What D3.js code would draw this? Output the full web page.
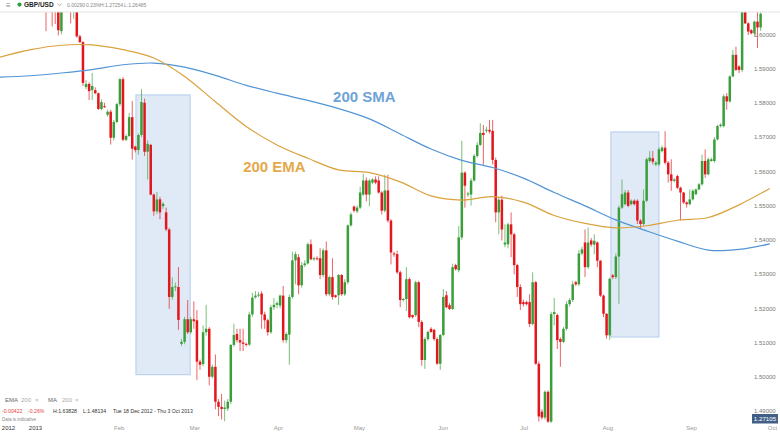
<!DOCTYPE html>
<html>
<head>
<meta charset="utf-8">
<script src="https://cdn.jsdelivr.net/npm/d3@7"></script>
<style>
body { margin: 0; background: #fff; }
svg { display: block; font-family: "Liberation Sans", Arial, sans-serif; }
</style>
</head>
<body>
<script>
// daily GBP/USD candles (Sunday stubs included)
const opens = [
  1.6140,1.6090,1.6120,1.6080,1.6100,1.6009,1.6090,1.6120,1.6100,1.6070,
  1.6080,1.5994,1.5977,1.5846,1.5855,1.5837,1.5837,1.5828,1.5782,1.5790,
  1.5765,1.5774,1.5698,1.5744,1.5796,1.5869,1.5692,1.5703,1.5758,1.5672,
  1.5662,1.5706,1.5800,1.5657,1.5677,1.5532,1.5483,1.5518,1.5498,1.5480,
  1.5430,1.5233,1.5262,1.5262,1.5096,1.5102,1.5168,1.5130,1.5168,1.5165,
  1.5044,1.5037,1.5130,1.5140,1.5000,1.5029,1.4927,1.4912,1.4906,1.4907,
  1.4927,1.5093,1.5125,1.5107,1.5100,1.5096,1.5094,1.5182,1.5232,1.5237,
  1.5243,1.5182,1.5165,1.5130,1.5203,1.5210,1.5208,1.5237,1.5107,1.5123,
  1.5233,1.5340,1.5349,1.5267,1.5326,1.5331,1.5387,1.5343,1.5346,1.5346,
  1.5297,1.5369,1.5241,1.5291,1.5238,1.5238,1.5297,1.5241,1.5276,1.5442,
  1.5497,1.5483,1.5494,1.5532,1.5573,1.5532,1.5567,1.5576,1.5573,1.5538,
  1.5485,1.5544,1.5456,1.5360,1.5358,1.5305,1.5224,1.5227,1.5285,1.5180,
  1.5180,1.5276,1.5160,1.5049,1.5110,1.5140,1.5137,1.5110,1.5038,1.5122,
  1.5238,1.5209,1.5198,1.5326,1.5311,1.5407,1.5596,1.5532,1.5532,1.5573,
  1.5645,1.5677,1.5712,1.5718,1.5721,1.5718,1.5633,1.5480,1.5517,1.5386,
  1.5387,1.5445,1.5416,1.5326,1.5262,1.5218,1.5218,1.5218,1.5154,1.5276,
  1.5038,1.4898,1.4881,1.4956,1.4869,1.5183,1.5180,1.5110,1.5102,1.5140,
  1.5212,1.5224,1.5276,1.5270,1.5360,1.5392,1.5320,1.5398,1.5386,1.5392,
  1.5339,1.5237,1.5184,1.5121,1.5296,1.5291,1.5351,1.5494,1.5504,1.5538,
  1.5504,1.5514,1.5514,1.5456,1.5446,1.5514,1.5630,1.5638,1.5620,1.5620,
  1.5659,1.5669,1.5625,1.5591,1.5572,1.5586,1.5552,1.5538,1.5509,1.5504,
  1.5518,1.5533,1.5547,1.5562,1.5630,1.5591,1.5630,1.5630,1.5693,1.5732,
  1.5732,1.5819,1.5804,1.5877,1.5940,1.5906,1.5896,1.6080,1.6032,1.6012,
  1.6003,1.6037,1.6020
];
const highs = [
  1.6170,1.6150,1.6160,1.6110,1.6130,1.6120,1.6140,1.6150,1.6130,1.6100,
  1.6100,1.5999,1.5980,1.5866,1.5860,1.5887,1.5845,1.5830,1.5810,1.5800,
  1.5780,1.5780,1.5750,1.5800,1.5872,1.5875,1.5708,1.5770,1.5805,1.5675,
  1.5710,1.5840,1.5812,1.5690,1.5680,1.5535,1.5540,1.5525,1.5510,1.5494,
  1.5435,1.5290,1.5275,1.5320,1.5110,1.5175,1.5224,1.5175,1.5220,1.5195,
  1.5050,1.5150,1.5210,1.5145,1.5035,1.5065,1.4935,1.4950,1.4930,1.4935,
  1.5095,1.5155,1.5140,1.5140,1.5140,1.5100,1.5190,1.5245,1.5250,1.5248,
  1.5250,1.5190,1.5170,1.5210,1.5230,1.5220,1.5240,1.5265,1.5130,1.5240,
  1.5365,1.5365,1.5358,1.5335,1.5340,1.5392,1.5401,1.5350,1.5352,1.5375,
  1.5375,1.5395,1.5295,1.5346,1.5240,1.5300,1.5300,1.5285,1.5445,1.5480,
  1.5500,1.5500,1.5555,1.5593,1.5582,1.5578,1.5580,1.5585,1.5585,1.5542,
  1.5590,1.5590,1.5460,1.5365,1.5368,1.5310,1.5230,1.5320,1.5290,1.5182,
  1.5280,1.5280,1.5165,1.5115,1.5135,1.5145,1.5140,1.5115,1.5125,1.5256,
  1.5250,1.5215,1.5330,1.5330,1.5440,1.5689,1.5600,1.5540,1.5580,1.5650,
  1.5685,1.5740,1.5735,1.5730,1.5750,1.5750,1.5640,1.5525,1.5529,1.5445,
  1.5450,1.5480,1.5420,1.5330,1.5270,1.5225,1.5222,1.5241,1.5305,1.5280,
  1.5045,1.4905,1.4960,1.4960,1.5190,1.5230,1.5185,1.5115,1.5145,1.5220,
  1.5230,1.5280,1.5280,1.5370,1.5380,1.5430,1.5436,1.5405,1.5416,1.5395,
  1.5340,1.5240,1.5185,1.5290,1.5300,1.5360,1.5500,1.5576,1.5545,1.5545,
  1.5518,1.5518,1.5518,1.5460,1.5547,1.5640,1.5659,1.5659,1.5630,1.5670,
  1.5675,1.5717,1.5630,1.5635,1.5580,1.5590,1.5555,1.5540,1.5512,1.5547,
  1.5548,1.5550,1.5566,1.5649,1.5664,1.5640,1.5640,1.5700,1.5736,1.5740,
  1.5825,1.5828,1.5880,1.5954,1.5964,1.5910,1.6090,1.6095,1.6035,1.6015,
  1.6040,1.6070,1.6080
];
const lows = [
  1.6009,1.6075,1.6023,1.6030,1.5997,1.6000,1.6070,1.6080,1.6032,1.6045,
  1.5990,1.5975,1.5849,1.5840,1.5808,1.5808,1.5825,1.5779,1.5778,1.5785,
  1.5760,1.5678,1.5690,1.5740,1.5790,1.5688,1.5688,1.5700,1.5634,1.5655,
  1.5648,1.5700,1.5645,1.5576,1.5530,1.5470,1.5475,1.5460,1.5490,1.5425,
  1.5198,1.5225,1.5250,1.5137,1.5090,1.5095,1.5125,1.5125,1.5140,1.4990,
  1.5020,1.5030,1.5120,1.4975,1.4995,1.4905,1.4885,1.4875,1.4870,1.4900,
  1.4920,1.5088,1.5100,1.5075,1.5075,1.5088,1.5090,1.5175,1.5228,1.5232,
  1.5140,1.5140,1.5120,1.5125,1.5195,1.5200,1.5200,1.5100,1.5098,1.5035,
  1.5228,1.5270,1.5241,1.5260,1.5320,1.5328,1.5340,1.5338,1.5340,1.5285,
  1.5290,1.5235,1.5236,1.5225,1.5230,1.5210,1.5236,1.5236,1.5270,1.5438,
  1.5480,1.5478,1.5490,1.5528,1.5512,1.5498,1.5562,1.5562,1.5535,1.5474,
  1.5480,1.5450,1.5328,1.5350,1.5300,1.5203,1.5220,1.5192,1.5170,1.5170,
  1.5175,1.5145,1.5032,1.5023,1.5105,1.5128,1.5105,1.5035,1.5020,1.5118,
  1.5200,1.5195,1.5195,1.5310,1.5305,1.5400,1.5494,1.5525,1.5500,1.5570,
  1.5640,1.5674,1.5619,1.5712,1.5710,1.5620,1.5451,1.5416,1.5398,1.5378,
  1.5375,1.5349,1.5299,1.5233,1.5195,1.5205,1.5208,1.5145,1.5150,1.5035,
  1.4869,1.4875,1.4875,1.4865,1.4865,1.5150,1.5081,1.5029,1.5098,1.5135,
  1.5205,1.5218,1.5265,1.5265,1.5355,1.5291,1.5315,1.5380,1.5358,1.5320,
  1.5233,1.5174,1.5111,1.5108,1.5285,1.5285,1.5213,1.5490,1.5500,1.5495,
  1.5500,1.5500,1.5446,1.5431,1.5440,1.5510,1.5625,1.5620,1.5615,1.5615,
  1.5655,1.5620,1.5567,1.5543,1.5568,1.5548,1.5456,1.5505,1.5494,1.5500,
  1.5515,1.5530,1.5544,1.5558,1.5581,1.5588,1.5628,1.5625,1.5690,1.5728,
  1.5728,1.5780,1.5800,1.5875,1.5893,1.5887,1.5890,1.6030,1.5998,1.6000,
  1.5993,1.5960,1.6010
];
const closes = [
  1.6090,1.6120,1.6080,1.6070,1.6012,1.6090,1.6120,1.6100,1.6070,1.6085,
  1.5994,1.5977,1.5858,1.5855,1.5834,1.5849,1.5828,1.5782,1.5802,1.5788,
  1.5774,1.5698,1.5744,1.5796,1.5869,1.5692,1.5703,1.5758,1.5666,1.5662,
  1.5706,1.5802,1.5657,1.5680,1.5532,1.5483,1.5518,1.5480,1.5505,1.5430,
  1.5233,1.5262,1.5264,1.5166,1.5102,1.5168,1.5130,1.5168,1.5162,1.5044,
  1.5035,1.5130,1.5140,1.5000,1.5029,1.4927,1.4912,1.4906,1.4910,1.4927,
  1.5093,1.5122,1.5107,1.5100,1.5096,1.5094,1.5182,1.5231,1.5237,1.5240,
  1.5182,1.5165,1.5130,1.5203,1.5210,1.5215,1.5237,1.5107,1.5125,1.5233,
  1.5340,1.5358,1.5267,1.5326,1.5331,1.5387,1.5343,1.5346,1.5344,1.5297,
  1.5369,1.5241,1.5291,1.5233,1.5233,1.5297,1.5241,1.5276,1.5442,1.5474,
  1.5485,1.5494,1.5538,1.5573,1.5532,1.5573,1.5576,1.5567,1.5538,1.5485,
  1.5544,1.5456,1.5363,1.5358,1.5305,1.5224,1.5227,1.5285,1.5174,1.5174,
  1.5276,1.5160,1.5049,1.5110,1.5131,1.5131,1.5110,1.5038,1.5122,1.5233,
  1.5203,1.5198,1.5320,1.5314,1.5407,1.5596,1.5558,1.5535,1.5573,1.5645,
  1.5677,1.5712,1.5706,1.5721,1.5716,1.5633,1.5480,1.5517,1.5430,1.5392,
  1.5445,1.5416,1.5326,1.5262,1.5212,1.5212,1.5212,1.5154,1.5276,1.5038,
  1.4884,1.4881,1.4956,1.4869,1.5183,1.5189,1.5107,1.5102,1.5140,1.5212,
  1.5224,1.5270,1.5270,1.5360,1.5372,1.5320,1.5392,1.5386,1.5397,1.5339,
  1.5237,1.5184,1.5121,1.5286,1.5291,1.5351,1.5494,1.5533,1.5538,1.5499,
  1.5514,1.5504,1.5456,1.5446,1.5514,1.5635,1.5640,1.5628,1.5625,1.5664,
  1.5669,1.5625,1.5591,1.5572,1.5576,1.5552,1.5538,1.5509,1.5504,1.5518,
  1.5543,1.5547,1.5562,1.5630,1.5591,1.5635,1.5635,1.5693,1.5732,1.5736,
  1.5819,1.5804,1.5877,1.5940,1.5896,1.5896,1.6075,1.6032,1.6008,1.6003,
  1.6037,1.6020,1.6060
];

// moving averages, read at candle positions
const maIdx  = [-15,-5,5,15,25,35,45,55,65,75,85,95,105,115,125,135,145,155,165,175,185,195,205,215,225,235];
const sma200 = [1.5875,1.5879,1.5887,1.5897,1.5911,1.5916,1.5904,1.5880,1.5851,1.5828,1.5807,1.5783,1.5753,
                1.5709,1.5665,1.5632,1.5611,1.5580,1.5538,1.5499,1.5458,1.5426,1.5396,1.5370,1.5372,1.5388];
const ema200 = [1.5933,1.5955,1.5968,1.5969,1.5955,1.5931,1.5877,1.5803,1.5731,1.5677,1.5638,1.5604,1.5596,
                1.5569,1.5528,1.5516,1.5526,1.5510,1.5471,1.5448,1.5435,1.5441,1.5457,1.5465,1.5502,1.5550];

const yTicks = [1.49,1.50,1.51,1.52,1.53,1.54,1.55,1.56,1.57,1.58,1.59,1.60];
const monthLabels = ["2012","2013","Feb","Mar","Apr","May","Jun","Jul","Aug","Sep","Oct"];
const monthDates = [new Date(2012,11,22), new Date(2013,0,1), new Date(2013,1,1), new Date(2013,2,1),
  new Date(2013,3,1), new Date(2013,4,1), new Date(2013,5,1), new Date(2013,6,1),
  new Date(2013,7,1), new Date(2013,8,1), new Date(2013,9,1)];

// highlighted ranges (candle index span, price span)
const boxFrom = [29.2, 183.4];
const boxTo = [46.8, 199.0];
const boxTop = [1.5823, 1.5715];
const boxBottom = [1.5006, 1.5116];

const width = 780, height = 435;
const plotTop = 12.5, plotBottom = 426;

const svg = d3.select("body").append("svg")
  .attr("width", width)
  .attr("height", height);

const x = d3.scaleLinear().domain([0, opens.length - 1]).range([46, 760.6]);
const y = d3.scaleLinear().domain([1.49, 1.60]).range([411, 34.3]);
const t = d3.scaleTime().domain([new Date(2013,0,1), new Date(2013,9,1)]).range([35, 772]);

svg.append("defs").append("clipPath").attr("id", "plot")
  .append("rect").attr("x", 0).attr("y", plotTop).attr("width", width).attr("height", plotBottom - plotTop);

// top rule
svg.append("line").attr("x1", 0).attr("x2", width).attr("y1", 12).attr("y2", 12)
  .attr("stroke", "#e2e2e2").attr("stroke-width", 1);

const plot = svg.append("g").attr("clip-path", "url(#plot)");

// highlight boxes
plot.selectAll(".box").data(boxFrom).join("rect")
  .attr("x", (d, i) => x(d))
  .attr("width", (d, i) => x(boxTo[i]) - x(d))
  .attr("y", (d, i) => y(boxTop[i]))
  .attr("height", (d, i) => y(boxBottom[i]) - y(boxTop[i]))
  .attr("fill", "#e0eaf7")
  .attr("stroke", "#b3cceb")
  .attr("stroke-width", 1);

// candles
const candles = opens.map((o, i) => ({
  i: i, o: o, c: closes[i],
  h: Math.max(highs[i], o, closes[i]),
  l: Math.min(lows[i], o, closes[i])
}));
const upCol = "#3a9e3a", downCol = "#e3161d";
const cg = plot.append("g");
cg.selectAll(".wick").data(candles).join("line")
  .attr("x1", d => x(d.i)).attr("x2", d => x(d.i))
  .attr("y1", d => y(d.h)).attr("y2", d => y(d.l))
  .attr("stroke", d => d.c >= d.o ? upCol : downCol)
  .attr("stroke-opacity", 0.75)
  .attr("stroke-width", 0.9);
cg.selectAll(".body").data(candles).join("rect")
  .attr("x", d => x(d.i) - 1.25)
  .attr("width", 2.5)
  .attr("y", d => y(Math.max(d.o, d.c)))
  .attr("height", d => Math.max(1, Math.abs(y(d.o) - y(d.c))))
  .attr("fill", d => d.c >= d.o ? upCol : downCol);

// moving averages
const maLine = v => d3.line()
  .x((d, i) => x(maIdx[i]))
  .y(d => y(d))
  .curve(d3.curveCatmullRom)(v);
plot.append("path").attr("d", maLine(sma200))
  .attr("fill", "none").attr("stroke", "#5195d6").attr("stroke-width", 1.2);
plot.append("path").attr("d", maLine(ema200))
  .attr("fill", "none").attr("stroke", "#d9a23c").attr("stroke-width", 1.2);

// line labels
svg.append("text").attr("x", x(93.2)).attr("y", y(1.5802))
  .attr("font-size", 15).attr("font-weight", "bold").attr("fill", "#6ea3d8").text("200 SMA");
svg.append("text").attr("x", x(64)).attr("y", y(1.5599))
  .attr("font-size", 15).attr("font-weight", "bold").attr("fill", "#e4a94c").text("200 EMA");

// price axis
const yAxis = svg.append("g").attr("transform", "translate(754,0)")
  .call(d3.axisRight(y).tickValues(yTicks).tickFormat(d3.format(".5f")).tickSize(0).tickPadding(0));
yAxis.select(".domain").remove();
yAxis.selectAll("text").attr("font-size", 6).attr("fill", "#777").attr("font-family", null);

// last price tag
svg.append("rect").attr("x", 752).attr("y", 414).attr("width", 26).attr("height", 9.5).attr("fill", "#425f88");
svg.append("text").attr("x", 765).attr("y", 421).attr("text-anchor", "middle")
  .attr("font-size", 6.2).attr("fill", "#fff").text("1.27105");

// time axis
const xAxis = svg.append("g").attr("transform", "translate(0,426)")
  .call(d3.axisBottom(t).tickValues(monthDates).tickFormat((d, i) => monthLabels[i]).tickSize(0).tickPadding(0));
xAxis.select(".domain").remove();
xAxis.selectAll("text").attr("font-size", 6).attr("font-family", null)
  .attr("dy", "0.71em")
  .attr("fill", (d, i) => i < 2 ? "#333" : "#999");

// header
const hd = svg.append("g");
hd.append("text").attr("x", 6).attr("y", 7.5).attr("font-size", 8).attr("fill", "#888").text("≡");
hd.append("circle").attr("cx", 19.5).attr("cy", 4.6).attr("r", 2.1).attr("fill", "#2f9d3c");
hd.append("text").attr("x", 24).attr("y", 7).attr("font-size", 6.5).attr("font-weight", "bold").attr("fill", "#222").text("GBP/USD");
hd.append("path").attr("d", "M57.5,3.8L59.5,5.6L61.5,3.8").attr("fill", "none").attr("stroke", "#888").attr("stroke-width", 0.7);
hd.selectAll(".hv").data([["0.00290", 67], ["0.23%", 86], ["H:1.27254", 100], ["L:1.26485", 124]]).join("text")
  .attr("x", d => d[1]).attr("y", 7).attr("font-size", 5).attr("fill", "#888").text(d => d[0]);

// indicator legend
const lg = svg.append("g");
lg.selectAll(".l1").data([["EMA", 5, "#666"], ["200", 21, "#aaa"], ["×", 35, "#aaa"],
                          ["MA", 48, "#666"], ["200", 62, "#aaa"], ["×", 75, "#aaa"]]).join("text")
  .attr("x", d => d[1]).attr("y", 402).attr("font-size", 6).attr("fill", d => d[2]).text(d => d[0]);
lg.selectAll(".l2").data([["-0.00422", 2, "#e2453d"], ["-0.26%", 28, "#e2453d"], ["H:1.63828", 53, "#333"],
                          ["L:1.48134", 83, "#333"], ["Tue 18 Dec 2012 - Thu 3 Oct 2013", 113, "#333"]]).join("text")
  .attr("x", d => d[1]).attr("y", 413).attr("font-size", 5.2).attr("fill", d => d[2]).text(d => d[0]);
lg.append("text").attr("x", 2).attr("y", 421).attr("font-size", 4.5).attr("fill", "#888").text("Data is indicative");
</script>
</body>
</html>
